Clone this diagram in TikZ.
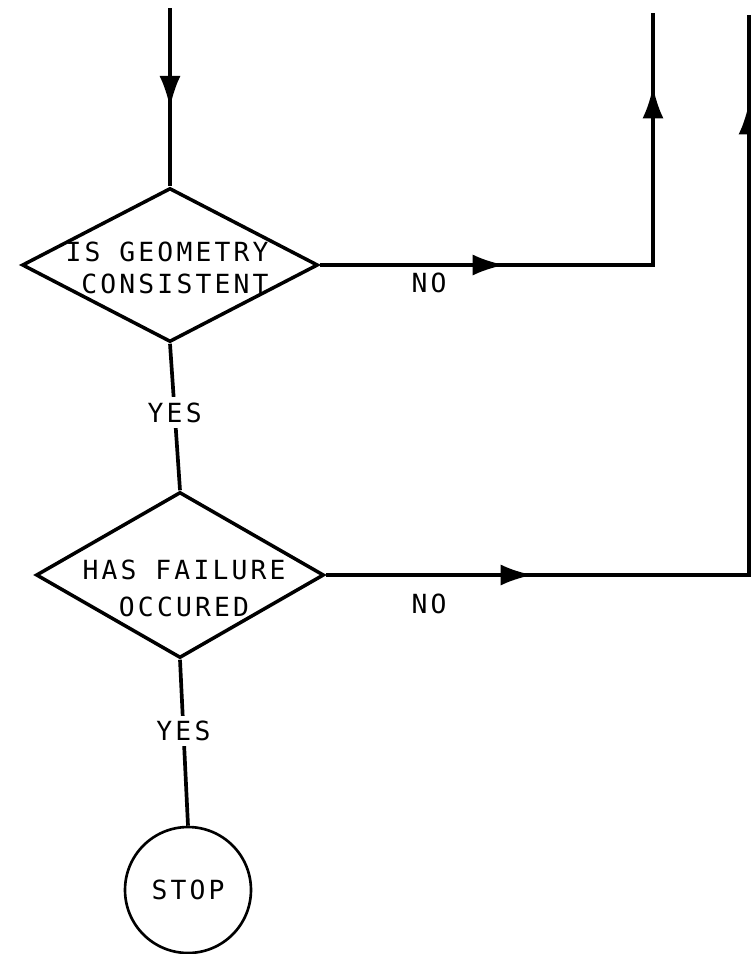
\documentclass[tikz,border=0pt]{standalone}
\usepackage{fontspec}
\usetikzlibrary{shapes.geometric, arrows.meta, decorations.markings}
\newfontfamily\plotfont[LetterSpace=12]{DejaVu Sans Mono}

\begin{document}
\begin{tikzpicture}[
    x=0.02cm, y=-0.02cm,
    flow/.style={line width=2.1pt, draw=black},
    decision/.style={diamond, draw=black, line width=2pt, inner sep=0pt},
    terminal/.style={circle, draw=black, line width=1.5pt, minimum size=2.52cm, inner sep=0pt, font=\plotfont\fontsize{15}{18}\selectfont},
    plottext/.style={font=\plotfont\fontsize{15}{18}\selectfont, inner sep=0pt},
    yes/.style={plottext, fill=white, inner sep=3pt},
    midarrow/.style={postaction={decorate}, decoration={markings, mark=at position #1 with {\arrow{Latex[length=6.4mm,width=4.2mm]}}}},
    twoarrows/.style 2 args={postaction={decorate}, decoration={markings,
        mark=at position #1 with {\arrow{Latex[length=6.4mm,width=4.2mm]}},
        mark=at position #2 with {\arrow{Latex[length=6.4mm,width=4.2mm]}}}}
]
\useasboundingbox (0,0) rectangle (751,954);

% Decisions
\node (geom) [decision, minimum width=5.92cm, minimum height=3.08cm] at (170,265) {};
\node (geomtext) [plottext, align=right] at (167,268) {IS GEOMETRY\\[0pt]CONSISTENT};
\node (fail) [decision, minimum width=5.76cm, minimum height=3.32cm] at (180,575) {};
\node (failtext) [plottext, align=center] at (184,588) {HAS FAILURE\\[3pt]OCCURED};

% Stop
\node (stop) [terminal] at (188,890) {STOP};

% Free ends
\coordinate (entry) at (geom.north |- 0,8);
\coordinate (turn1) at (geom.east -| 653,0);
\coordinate (exit1) at (653,13);
\coordinate (turn2) at (fail.east -| 749,0);
\coordinate (exit2) at (749,15);

% Arrows
\draw [flow, midarrow=2cm] (entry) -- (geom.north);
\draw [flow, twoarrows={3.7cm}{10.24cm}] (geom.east) -- (turn1) -- (exit1);
\draw [flow, twoarrows={4.14cm}{17.92cm}] (fail.east) -- (turn2) -- (exit2);
\draw [flow] (geom.south) -- node (yes1) [yes, pos=0.47] {YES} (fail.north);
\draw [flow] (fail.south) -- node (yes2) [yes, pos=0.43] {YES} (stop.north);

% Labels
\node (no1) [plottext] at (429,283) {NO};
\node (no2) [plottext] at (429,604) {NO};

\end{tikzpicture}
\end{document}
